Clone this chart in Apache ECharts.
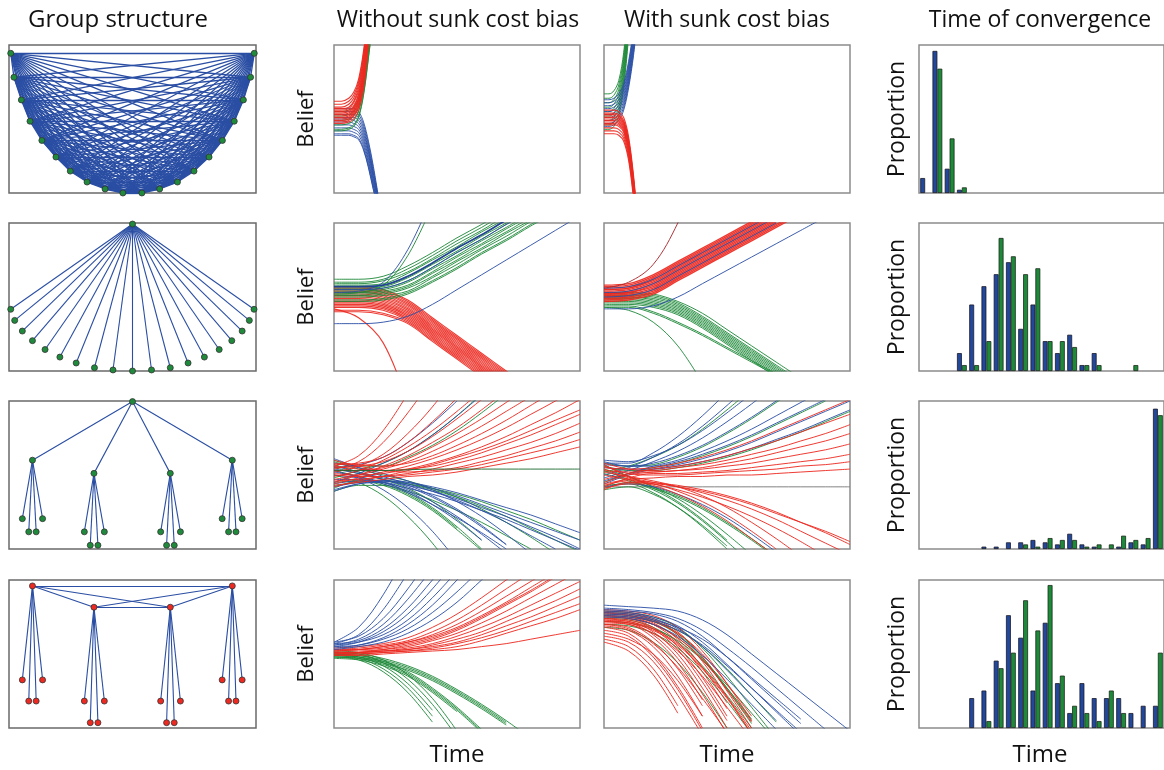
<!DOCTYPE html>
<html><head><meta charset="utf-8">
<script src="https://cdn.jsdelivr.net/npm/echarts@6/dist/echarts.min.js"></script>
<style>html,body{margin:0;padding:0;background:#fff}#c{width:1164px;height:770px}</style>
</head><body><div id="c"></div><script>
// ---------- text ----------
const colTitles = ['Group structure','Without sunk cost bias','With sunk cost bias','Time of convergence'];
const beliefLabel = 'Belief', propLabel = 'Proportion', timeLabel = 'Time';

// ---------- group structures (node positions, % of panel) ----------
const nodesFull = [[0.7,94.4],[2.0,78.2],[5.0,62.9],[8.5,48.5],[13.3,35.5],[19.0,24.3],[24.8,14.8],[31.6,7.4],[38.9,2.7],[46.1,0],
  [53.8,0],[61.0,2.7],[68.2,7.4],[74.9,14.8],[81.0,24.3],[86.4,35.5],[91.2,48.5],[94.9,62.9],[97.8,78.2],[99.3,94.4]];
const nodesStar = [[50,99.3],[0.7,41.7],[2.3,34.2],[5.4,27.0],[9.5,20.5],[14.6,14.5],[20.6,9.4],[27.2,5.4],[34.6,2.2],[42.1,0.7],[50,0],
  [57.7,0.7],[65.3,2.2],[72.5,5.4],[79.1,9.4],[85.1,14.5],[90.2,20.5],[94.4,27.0],[97.3,34.2],[99.2,41.7]];
const nodesTree = [[50,99.6],[9.5,60],[34.4,51.1],[65.3,51.1],[90.4,60],
  [5.4,20.5],[8.0,11.6],[11.0,11.6],[13.6,20.5],
  [30.5,11.6],[32.9,2.5],[36.0,2.5],[38.6,11.6],
  [61.4,11.6],[63.8,2.5],[66.9,2.5],[69.4,11.6],
  [86.3,20.5],[88.9,11.6],[91.9,11.6],[94.4,20.5]];
const nodesClique = [[9.5,96],[34.4,81.6],[65.3,81.6],[90.4,96],
  [5.4,32.5],[8.0,18.2],[11.0,18.2],[13.6,32.5],
  [30.5,18.2],[32.9,3.6],[36.0,3.6],[38.6,18.2],
  [61.4,18.2],[63.8,3.6],[66.9,3.6],[69.4,18.2],
  [86.3,32.5],[88.9,18.2],[91.9,18.2],[94.4,32.5]];

// ---------- histograms (20 bins, % of panel height) ----------
const bins = ['1','2','3','4','5','6','7','8','9','10','11','12','13','14','15','16','17','18','19','20'];
const hist1Blue  = [10.1,96,16.4,2.2,0,0,0,0,0,0,0,0,0,0,0,0,0,0,0,0];
const hist1Green = [0,84,36.9,3.8,0,0,0,0,0,0,0,0,0,0,0,0,0,0,0,0];
const hist2Blue  = [0,0,0,12.1,44.9,57.3,65.4,73.5,28.5,44.9,20.2,12.1,24.5,4.0,12.1,0,0,0,0,0];
const hist2Green = [0,0,0,4.0,4.0,20.2,89.9,77.5,65.4,69.4,20.2,20.2,16.2,4.0,4.0,0,0,4.0,0,0];
const hist3Blue  = [0,0,0,0,0,1.6,1.6,4.5,4.5,6.1,4.5,3.1,10.3,3.1,1.6,0,1.6,4.5,3.1,94.8];
const hist3Green = [0,0,0,0,0,0,0,0,3.1,1.6,7.4,6.1,6.1,1.6,3.1,3.1,9.0,6.1,7.4,90.4];
const hist4Blue  = [0,0,0,0,20.2,25.3,45.5,76.2,61.0,25.3,71.1,30.3,10.1,30.3,20.2,20.2,20.2,10.1,15.0,15.0];
const hist4Green = [0,0,0,0,0,4.7,40.4,50.9,86.3,65.9,96.6,35.4,15.0,10.1,4.7,25.3,10.1,0,0,50.9];

// ---------- belief trajectories ----------
const xsA = [0,3,6,8,10,12,14,16,18];
const blueA = [[57,57,57,57,55,48,35,18,-2],[55,55,55,55,53,46,33,16,-3],[53,53,53,53,51,44,31,14,-4],[51,51,51,51,49,42,29,13,-5],
 [50,50,50,49,47,40,28,11,-6],[48,48,48,47,45,38,26,10,-7],[46,46,46,45,43,36,24,8,-8],[44,44,44,43,41,34,22,6,-9],
 [42,42,42,41,39,32,20,5,-10],[40,40,40,39,37,30,18,3,-11],[39,39,39,38,36,29,17,2,-12]];
const greenA = [[55,55,56,58,64,79,103,130],[52,52,53,55,61,76,100,128],[49,49,50,52,58,73,97,125],[46,46,47,49,55,70,95,123],
 [43,43,44,46,52,67,92,120],[42,42,43,45,51,66,91,119]];
const redA = [[62,62,64,68,77,96,126],[60,60,62,66,75,94,124],[58,58,60,64,73,92,122],[57,57,58,62,71,90,120],[56,56,57,61,69,88,118],
 [55,55,56,59,67,86,116],[54,54,55,58,66,84,114],[53,53,54,57,64,82,112],[52,52,53,56,63,80,110],[51,51,52,55,62,79,108],
 [50,50,51,54,60,77,106],[49,49,50,53,59,75,104],[48,48,49,52,58,73,102],[47,47,48,50,56,70,100]];

const xsB = [0,2,4,6,8,10,12,14];
const greenB = [[67,67,69,76,95,130],[64,64,66,73,92,127],[61,61,63,70,89,124],[58,58,60,67,86,121],[55,55,57,64,83,118],
 [52,52,54,61,80,115],[49,49,51,58,77,112],[46,46,48,55,74,109],[43,43,45,52,71,106]];
const blueB = [[63,63,64,67,74,89,111,140],[61,61,62,65,72,87,109,138],[59,59,60,63,70,85,107,136],[57,57,58,61,68,83,105,134],
 [55,55,56,59,66,81,103,132],[53,53,54,57,64,79,101,130],[51,51,52,55,62,77,99,128],[49,49,50,53,60,75,97,126],
 [47,47,48,51,58,73,95,124],[45,45,46,49,56,71,93,122]];
const redB = [[56,56,56,55,51,38,12,-25],[54,54,54,53,49,36,10,-27],[53,53,53,52,48,35,9,-28],[52,52,52,51,47,34,8,-29],
 [51,51,51,50,46,33,7,-30],[50,50,50,49,45,32,6,-31],[49,49,49,48,44,31,5,-32],[48,48,48,47,43,30,4,-33],
 [47,47,47,46,42,29,3,-34],[46,46,46,45,41,28,2,-35],[44,44,44,43,39,26,0,-37],[42,42,42,41,37,24,-2,-39],[40,40,40,39,35,22,-4,-41]];

const xsT = [0,10,20,30,40,50,60,70,80,90,100];
const greenC = [[62,62,64,71,80,90,99,109,118],[60,60,62,69,78,88,97,107,116],[59,59,61,67,76,86,95,105,114],
 [58,58,59,66,75,84,94,103,113],[57,57,58,64,73,83,92,102,111],[56,56,57,63,72,81,91,100,110],[55,55,56,61,70,80,89,99,108],
 [54,54,55,60,69,78,88,97,107],[53,53,54,58,67,77,86,96,105],[52,52,53,57,66,75,85,94,104],[51,51,52,56,64,74,83,93,102,112],
 [50,50,51,54,63,72,82,91,101,110],[48,48,49,53,61,70,80,89,99,108],[47,47,48,52,60,69,79,88,98,107],[52,53,58,78,112]];
const blueC = [[55,55,56,61,70,80,89,99,108],[32,32,33,37,45,55,65,75,85,95,105],[53,54,60,82,118]];
const blueThickC = [[57,57,58,64,73,83,92,102,111]];
const redC = [[57,57,55,48,36,24,12,0,-12],[56,56,54,47,35,23,11,-1,-13],[55,55,53,46,34,22,10,-2],[54,54,52,45,33,21,9,-3],
 [53,53,51,44,32,20,8,-4],[52,52,50,43,31,19,7,-5],[51,51,49,42,30,18,6,-6],[50,50,48,41,29,17,5,-7],[49,49,47,40,28,16,4,-8],
 [48,48,46,39,27,15,3,-9],[47,47,45,38,26,14,2,-10],[46,46,44,37,25,13,1,-11],[45,45,43,36,24,12,0,-12],[44,44,42,35,23,11,-1],
 [43,43,41,34,22,10,-2],[41,41,39,33,21,9,-3],[40,40,38,32,20,8,-4],[42,36,19,-22]];

const redD = [[58,59,65,74,83,92,101,110],[57,58,64,73,82,91,100,109],[56,57,63,72,81,90,99,108],[55,56,62,71,80,89,98,107],
 [55,56,61,70,79,88,97,106],[54,55,60,69,78,87,96,105],[53,54,59,68,77,86,95,104],[52,53,58,67,76,85,94,103],
 [52,53,57,66,75,84,93,102],[51,52,56,65,74,83,92,101],[50,51,55,64,73,82,91,100],[49,50,54,63,72,81,90,99,108],
 [48,49,53,62,71,80,89,98,107],[47,48,52,61,70,79,88,97,106]];
const darkRedD = [[56,60,72,100,140]];
const blueD = [[56,57,62,71,80,89,98,107],[53,54,59,68,77,86,95,104],[50,51,55,64,73,82,91,100],[42,42,44,50,59,68,77,86,95,104]];
const greenD = [[53,53,52,47,39,28,17,6,-5],[52,52,51,46,37,26,15,4,-7],[51,51,50,45,36,25,14,3,-8],[50,50,49,44,35,24,13,2,-9],
 [50,50,48,43,34,23,12,1,-10],[49,49,47,42,33,22,11,0,-11],[48,48,46,41,32,21,10,-1],[47,47,45,40,31,20,9,-2],
 [46,46,44,39,30,19,8,-3],[45,45,43,38,29,18,7,-4],[44,44,40,33,25,16,7,-2],[43,43,39,32,24,15,6,-3],[43,41,33,17,-8]];

const redE = [[56,63,80,105],[54,59,72,92,115],[52,56,64,78,96,118],[57,58,62,72,86,102,120],[49,53,60,69,80,93,107],
 [55,56,59,66,76,88,101,115],[45,50,56,63,72,82,94,107],[53,53,55,61,69,78,88,99,110],[47,50,54,59,66,74,83,93,103],
 [58,57,56,58,63,70,78,87,97,107],[44,48,52,56,61,67,74,82,91,100,110],[51,50,51,54,58,63,69,76,84,92,101],
 [42,46,49,53,57,62,67,73,80,87,94],[56,54,53,54,56,60,65,71,77,84,91],[46,47,49,51,54,58,62,67,72,78,85],
 [60,56,53,52,53,55,59,63,68,73,79],[50,49,49,50,52,54,57,61,65,69,74],[43,45,47,49,50,52,55,58,61,65,69]];
const blueE = [[58,55,51,46,40,32,22,10,-3],[44,46,46,43,36,27,16,3],[54,51,47,42,35,26,15,3],[40,44,45,40,32,22,10,-3],
 [52,49,45,39,30,19,6],[47,47,44,38,30,21,11,0],[61,55,49,44,39,33,26,18,9,0],[42,45,46,43,39,34,28,22,15,8,0],
 [50,48,45,41,37,32,26,20,13,6,-1],[56,52,48,45,41,36,30,24,18,12,6],[39,44,46,45,42,38,33,28,23,17,11],
 [55,57,62,72,85,100],[45,51,58,66,77,90,104],[53,48,40,28,12,-8]];
const greenE = [[57,52,47,41,32,20,6],[41,46,45,38,28,15,0],[53,49,44,37,27,14],[45,46,43,36,26,13,-1],
 [59,54,50,46,41,35,27,18,8,-3],[39,43,43,39,33,26,18,9,0],[55,51,47,44,40,35,29,22,14,6,-2],[43,45,46,44,41,37,32,26,20,13,6],
 [48,53,58,66,77,90,105],[60,56,56,62,70,80,92,105],[50,45,36,22,4,-18]];
const darkGreenE = [[53,53,53,53.5,54,54,54,54,54,54,54]];

const blueF = [[58,58,65,76,90,106],[50,55,62,71,83,97,112],[60,59,63,70,80,92,105],[48,53,59,66,75,86,98,111],
 [57,56,58,63,70,79,89,100,111],[46,51,56,60,66,73,81,90,99,108],[59,56,56,59,64,70,77,85,93,101],
 [44,50,54,57,61,66,72,79,86,93,100],[55,54,54,56,59,63,68,74,80,87,94],[42,44,42,37,30,21,10,-2]];
const greenF = [[52,56,62,70,81,94,108],[58,56,57,62,69,78,88,99,110],[45,51,55,58,63,69,76,84,92,100],[56,53,53,55,58,62,67,73,79,86,93],
 [54,49,42,34,23,10,-4],[41,45,41,32,20,6],[51,46,40,31,19,5,-10],[43,44,38,28,15,0],[57,49,42,36,28,18,7,-5],
 [40,42,37,28,16,2],[53,47,41,35,27,17,6,-6]];
const redF = [[55,54,55,58,62,67,73,80,87,94,101],[47,51,54,56,59,63,68,73,79,85,91],[58,54,53,55,57,60,64,68,73,78,84],
 [45,50,52,53,55,58,61,65,69,73,78],[53,52,52,53,54,56,58,61,64,67,71],[42,48,51,51,52,53,55,57,59,61,64],
 [56,51,50,50,51,52,53,54,56,57,59],[44,47,48,49,49,50,50,51,52,53,54],[52,49,46,42,36,28,18,7,-5],[40,45,44,39,32,23,12,0],
 [54,48,44,40,35,29,22,14,5,-5],[43,46,45,42,38,33,27,20,12,4,-4],[57,49,45,43,40,36,31,25,18,11,3],
 [41,44,44,42,39,35,30,24,18,12,5],[50,47,43,37,29,19,7,-5]];
const grayF = [[42,42,42,42,42,42,42,42,42,42,42]];

const blueG = [[58,68,90,120],[57,63,80,105],[58,62,74,94,118],[56,60,70,87,108],[57,59,67,81,100,120],
 [55,58,65,77,94,114],[56,58,63,73,88,106],[54,56,61,70,83,100,118],[55,56,60,67,78,92,108],[53,55,58,64,73,85,100,115]];
const redG = [[54,55,57,61,68,77,88,100,112],[53,54,56,59,65,73,83,94,105],[52,53,55,58,63,70,79,89,99,109],
 [53,53,54,57,61,67,75,84,93,103],[52,52,53,55,59,64,71,79,88,97,106],[51,51,52,54,57,62,68,75,83,91,99],
 [50,51,52,53,56,60,65,72,79,86,94],[51,51,52,53,55,58,63,69,75,82,89],[50,50,51,52,54,57,61,66,72,78,84],
 [49,50,51,52,53,55,59,64,69,74,80],[52,53,55,58,62,68,76,85,95,105],[50,51,53,56,60,66,74,83,92,102],[49,49,50,51,52,53,55,57,60,63,66]];
const greenG = [[52,51,46,36,20,-2],[51,50,44,33,16,-6],[50,48,42,30,12],[49,47,40,27,8],[48,46,38,24,4],
 [50,49,45,38,27,14,-1],[49,48,44,37,26,13,-2],[48,47,43,36,25,12,-3],[47,46,42,35,24,11],
 [51,50,47,42,35,26,16,5,-7],[50,49,46,41,34,25,15,4],[49,48,45,40,33,24,14,3],[48,47,44,39,32,23,13,2]];

const blueH = [[83,82,81,79,73,63,50,37,24,11,-2],[81,80,78,74,66,54,41,27,13,-1],[80,79,77,72,62,48,33,18,3],
 [79,78,75,69,58,43,27,11,-5],[78,77,74,67,55,39,22,5],[76,75,72,66,56,42,27,12,-3],[77,76,73,68,60,48,34,20,6],[75,74,70,62,49,33,16,-1]];
const redH = [[80,79,76,68,52,30,5],[79,78,74,65,48,25,0],[78,77,73,63,45,21,-4],[77,76,71,60,41,17],[76,75,70,58,38,13],
 [75,74,68,55,34,8],[74,73,67,53,31,5],[73,72,65,50,27,0],[72,71,63,47,23,-4],[71,70,61,44,19],[70,68,58,40,15],
 [69,66,55,35,8],[68,64,50,28,0],[70,67,57,41,20,-3],[72,70,64,52,35,14,-8],[74,72,67,57,41,21,-2],[76,74,70,61,46,26,4],
 [78,76,72,64,50,30,8],[66,62,48,26,-2],[73,71,66,56,40,20,-4],[62,58,45,22,-5],[60,55,40,15],[64,60,50,32,8],[58,52,36,10]];
const greenH = [[79,78,75,68,54,35,14,-7],[78,77,73,64,48,27,5],[77,76,72,63,47,26,3],[75,74,70,61,46,27,6],[74,73,68,58,42,22,0],
 [72,71,67,59,46,29,10,-9],[70,69,64,54,38,18,-4],[76,75,72,66,55,40,22,4],[68,66,58,44,24,0]];

// ---------- build ----------
const C = {red:'#ec2a22', blue:'#2c50a6', green:'#1f8a3b', darkred:'#a8262a', gray:'#777', darkblue:'#1d3d92', darkgreen:'#1d6a30'};
const colLeft = [9,334,604,919], colW = [247,246,246,245];
const rowTop = [45,223,401,580], rowH = 148;
const grids=[], xAxes=[], yAxes=[], series=[];
for (let r=0;r<4;r++) for (let c=0;c<4;c++){
  const gi=r*4+c;
  grids.push({left:colLeft[c], top:rowTop[r], width:colW[c], height:rowH, show:true,
    borderColor: c===0?'#6a6a6a':'#8c8c8c', borderWidth:1.5, containLabel:false});
  if (c===3) xAxes.push({gridIndex:gi,type:'category',data:bins,show:false});
  else xAxes.push({gridIndex:gi,type:'value',min:0,max:100,show:false});
  yAxes.push({gridIndex:gi,type:'value',min:0,max:100,show:false});
}
function graphSeries(gi, nodes, links, nodeColor, lw){
  return {type:'graph', layout:'none', coordinateSystem:'cartesian2d', xAxisIndex:gi, yAxisIndex:gi, silent:true,
    data: nodes.map(p=>p), links: links.map(([s,t])=>({source:s,target:t})), symbolSize:6,
    itemStyle:{color:nodeColor, borderColor:'#333', borderWidth:0.8},
    lineStyle:{color:'#2a4ea3', width:lw, opacity:1, curveness:0}, z:3};
}
const linksFull=[]; for(let i=0;i<nodesFull.length;i++) for(let j=i+1;j<nodesFull.length;j++) linksFull.push([i,j]);
const linksStar=[]; for(let i=1;i<nodesStar.length;i++) linksStar.push([0,i]);
const linksTree=[]; for(let m=1;m<=4;m++){ linksTree.push([0,m]); for(let k=0;k<4;k++) linksTree.push([m,5+(m-1)*4+k]); }
const linksClique=[]; for(let i=0;i<4;i++){ for(let j=i+1;j<4;j++) linksClique.push([i,j]); for(let k=0;k<4;k++) linksClique.push([i,4+i*4+k]); }
series.push(graphSeries(0,nodesFull,linksFull,C.green,1.3));
series.push(graphSeries(4,nodesStar,linksStar,C.green,1.1));
series.push(graphSeries(8,nodesTree,linksTree,C.green,1.1));
series.push(graphSeries(12,nodesClique,linksClique,C.red,1.1));

function lines(gi, xs, arr, color, w){
  arr.forEach(ys=>series.push({type:'line', xAxisIndex:gi, yAxisIndex:gi, silent:true, clip:true,
    data: ys.map((y,i)=>[xs[i],y]), smooth:0.35, symbol:'none', lineStyle:{color:color, width:w||1, opacity:0.92}}));
}
lines(1,xsA,blueA,C.blue); lines(1,xsA,greenA,C.green); lines(1,xsA,redA,C.red,1.1);
lines(2,xsB,greenB,C.green); lines(2,xsB,blueB,C.blue); lines(2,xsB,redB,C.red,1.1);
lines(5,xsT,redC,C.red,1.1); lines(5,xsT,greenC,C.green); lines(5,xsT,blueC,C.blue); lines(5,xsT,blueThickC,C.darkblue,1.8);
lines(6,xsT,greenD,C.green); lines(6,xsT,redD,C.red,1.4); lines(6,xsT,blueD,C.blue); lines(6,xsT,darkRedD,C.darkred);
lines(9,xsT,greenE,C.green); lines(9,xsT,blueE,C.blue); lines(9,xsT,redE,C.red); lines(9,xsT,darkGreenE,C.darkgreen);
lines(10,xsT,grayF,C.gray); lines(10,xsT,greenF,C.green); lines(10,xsT,blueF,C.blue); lines(10,xsT,redF,C.red);
lines(13,xsT,greenG,C.green); lines(13,xsT,redG,C.red); lines(13,xsT,blueG,C.blue);
lines(14,xsT,greenH,C.green); lines(14,xsT,redH,C.red); lines(14,xsT,blueH,C.blue);

function bars(gi, b, g){
  const common={type:'bar', xAxisIndex:gi, yAxisIndex:gi, silent:true, barGap:'0%', barCategoryGap:'20%'};
  series.push(Object.assign({data:b.map(v=>v>0?v:null), itemStyle:{color:'#22489c',borderColor:'#1a1a2a',borderWidth:0.8}},common));
  series.push(Object.assign({data:g.map(v=>v>0?v:null), itemStyle:{color:'#1d8a3a',borderColor:'#1a2a1a',borderWidth:0.8}},common));
}
bars(3,hist1Blue,hist1Green); bars(7,hist2Blue,hist2Green); bars(11,hist3Blue,hist3Green); bars(15,hist4Blue,hist4Green);

const FONT='"Open Sans", "Noto Sans", sans-serif';
const graphic=[];
const titleX=[118,458,727,1040], titleSize=[24,23,23,23];
colTitles.forEach((t,i)=>graphic.push({type:'text',x:titleX[i],y:20,style:{text:t,font:titleSize[i]+'px '+FONT,fill:'#111',textAlign:'center',textVerticalAlign:'middle'}}));
for(let r=0;r<4;r++){
  const cy=rowTop[r]+rowH/2;
  graphic.push({type:'text',x:307,y:cy,rotation:Math.PI/2,style:{text:beliefLabel,font:'22px '+FONT,fill:'#111',textAlign:'center',textVerticalAlign:'middle'}});
  graphic.push({type:'text',x:897,y:cy,rotation:Math.PI/2,style:{text:propLabel,font:'23px '+FONT,fill:'#111',textAlign:'center',textVerticalAlign:'middle'}});
}
[457,727,1040].forEach(x=>graphic.push({type:'text',x:x,y:755,style:{text:timeLabel,font:'24px '+FONT,fill:'#111',textAlign:'center',textVerticalAlign:'middle'}}));

const chart=echarts.init(document.getElementById('c'),null,{renderer:'canvas'});
chart.setOption({animation:false, grid:grids, xAxis:xAxes, yAxis:yAxes, series:series, graphic:graphic});
</script></body></html>
